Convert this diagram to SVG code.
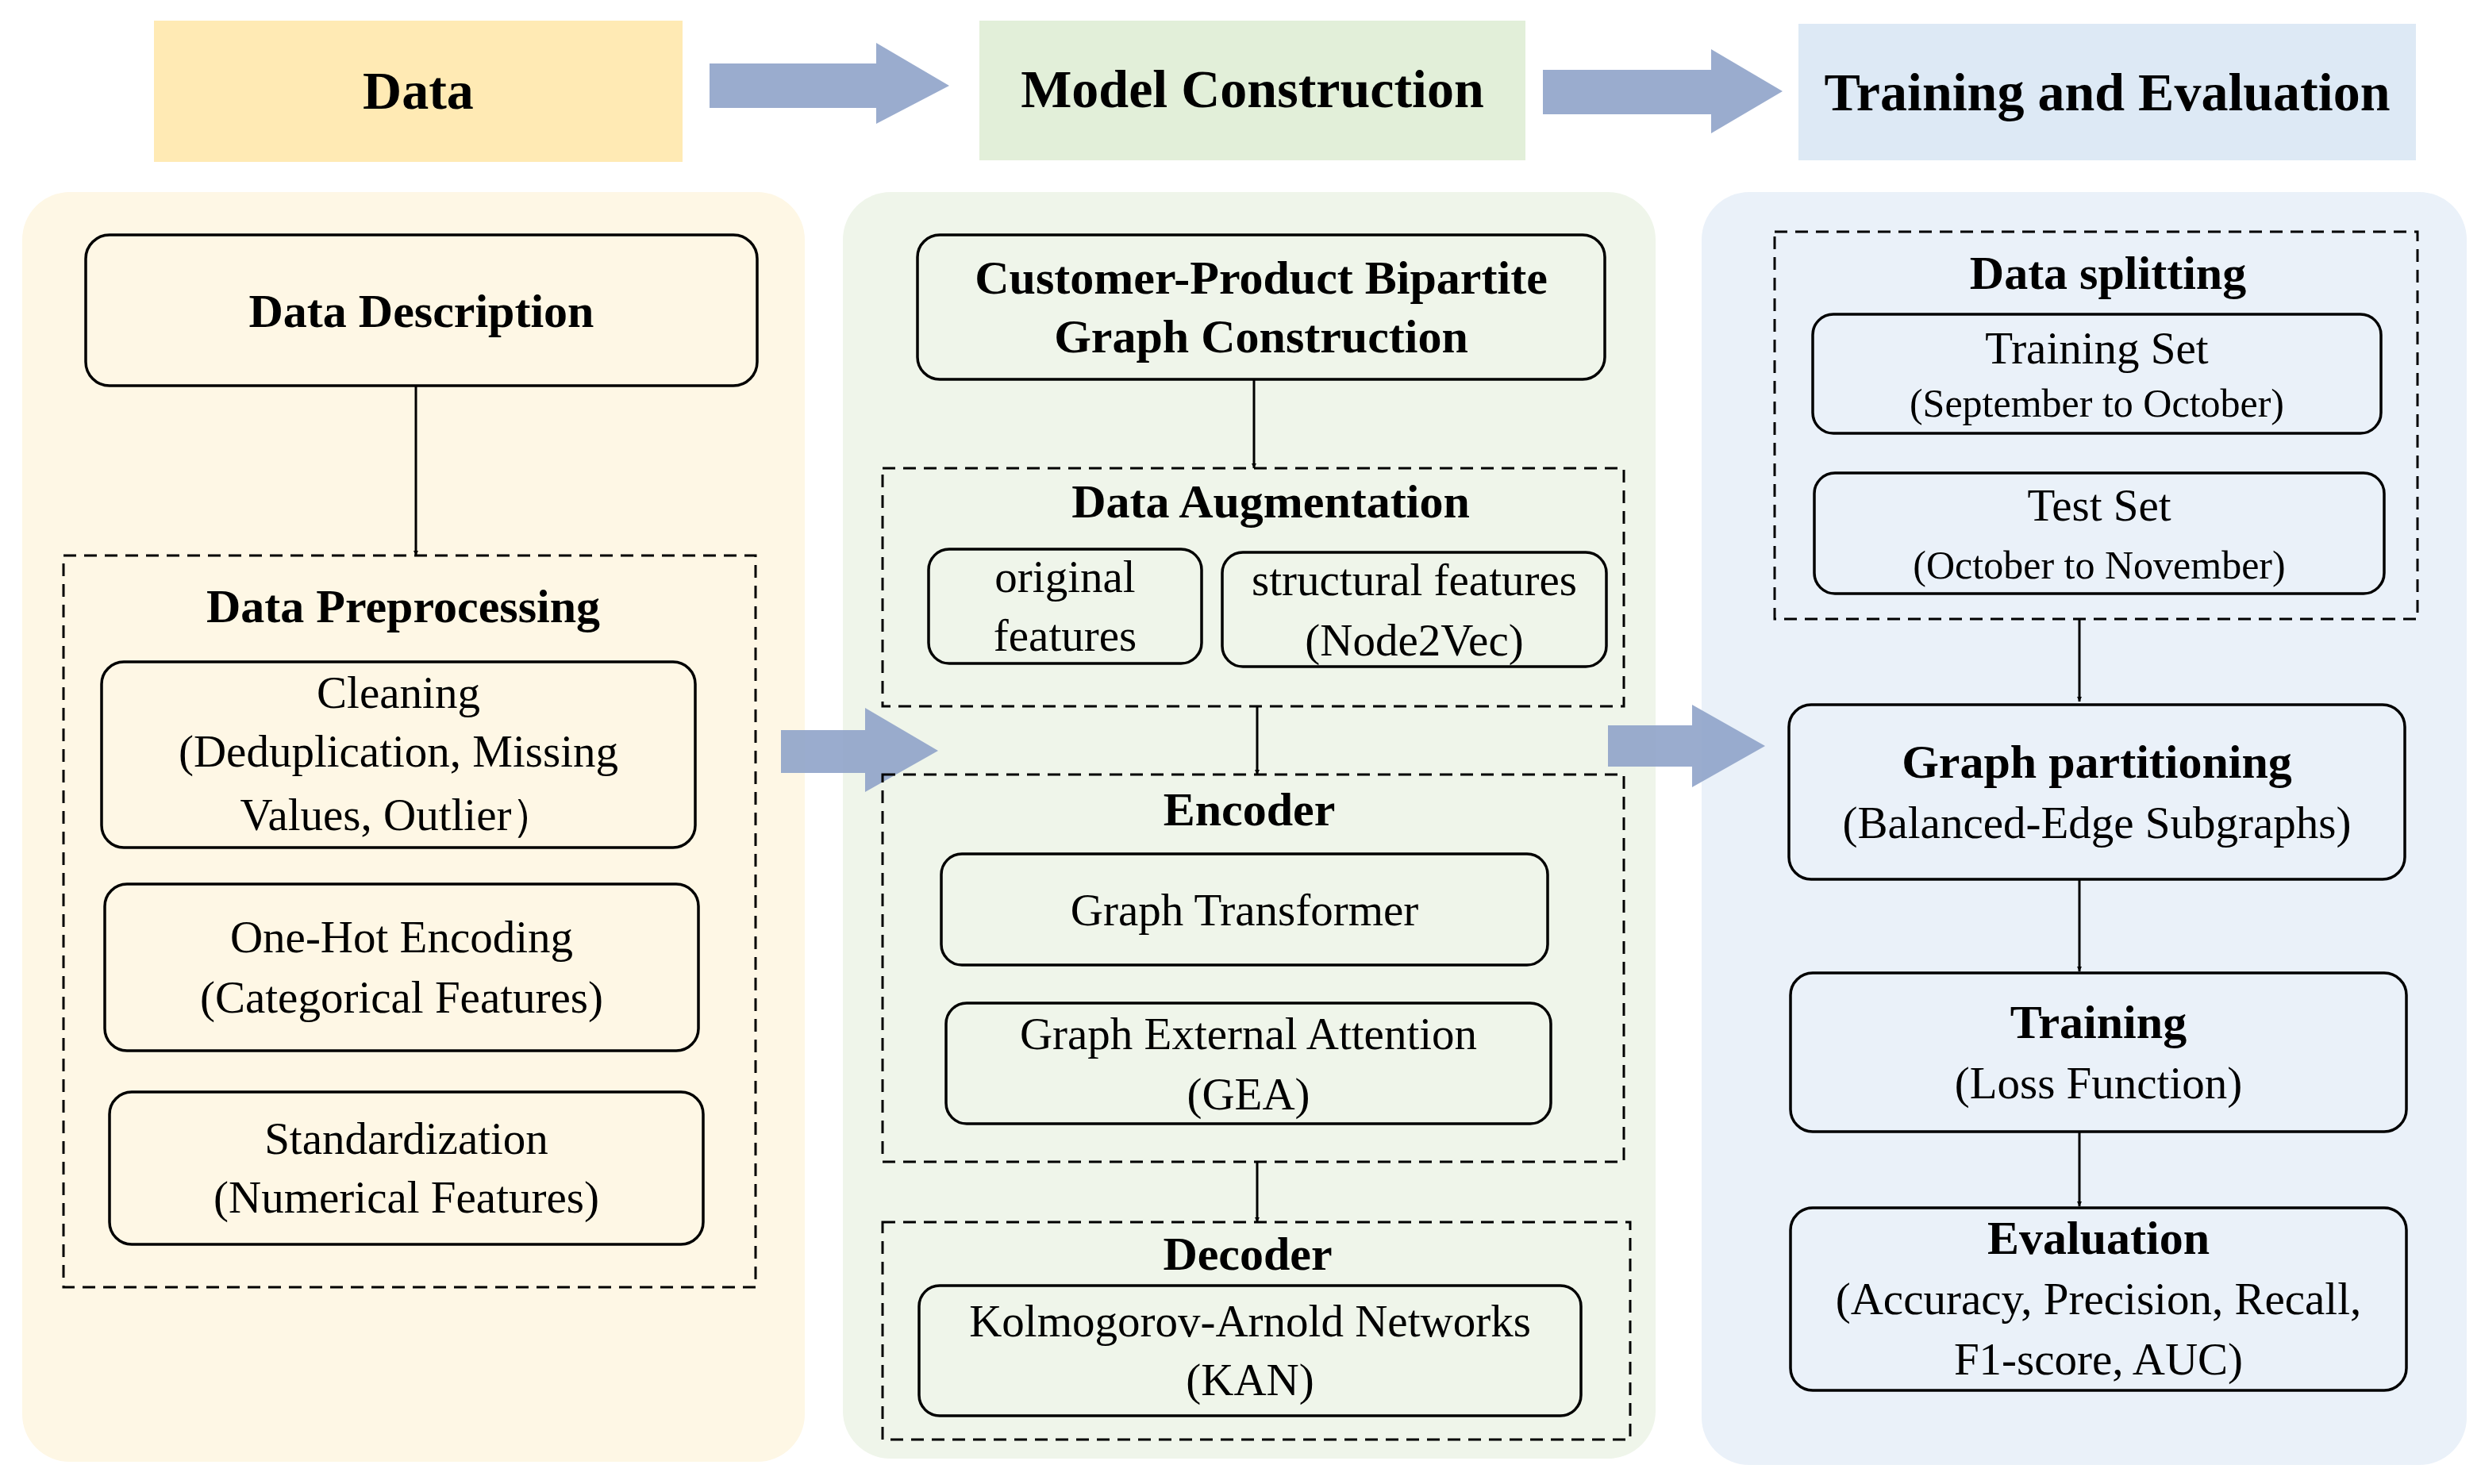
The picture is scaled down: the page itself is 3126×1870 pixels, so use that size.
<svg xmlns="http://www.w3.org/2000/svg" width="3126" height="1870" viewBox="0 0 3126 1870">
<defs>
<style>
text{font-family:"Liberation Serif","Times New Roman",serif;fill:#000;text-anchor:middle;dominant-baseline:central}
.h{font-weight:bold;font-size:60px}
.t{font-weight:bold;font-size:68px}
.r{font-size:57px}
.s{font-size:50px}
.box{stroke:#000;stroke-width:3.5;fill:none}
.dash{stroke:#000;stroke-width:3;fill:none;stroke-dasharray:16 10}
.ln{stroke:#000;stroke-width:3;fill:none;marker-end:url(#ah)}
.big{fill:#8fa3c9;opacity:0.9}
</style>
<marker id="ah" viewBox="0 0 10 10" refX="10" refY="5" markerWidth="6" markerHeight="6" orient="auto" markerUnits="userSpaceOnUse"><path d="M0,0 L10,5 L0,10 z" fill="#000"/></marker>
</defs>
<rect width="3126" height="1870" fill="#fff"/>
<g id="panels">
<rect x="28" y="242" width="986" height="1600" rx="60" fill="#fef7e5"/>
<rect x="1062" y="242" width="1024" height="1596" rx="60" fill="#eff5ea"/>
<rect x="2144" y="242" width="964" height="1604" rx="60" fill="#eaf1f9"/>
</g>
<g id="head-data"><rect x="194" y="26" width="666" height="178" fill="#ffeab4"/><text class="t" x="527" y="114">Data</text></g>
<g id="head-model"><rect x="1234" y="26" width="688" height="176" fill="#e2efd9"/><text class="t" x="1578" y="112">Model Construction</text></g>
<g id="head-train"><rect x="2266" y="30" width="778" height="172" fill="#dde9f5"/><text class="t" x="2655" y="116">Training and Evaluation</text></g>
<g id="connectors">
<path class="big" d="M894,80 H1104 V54 L1196,108 L1104,156 V136 H894 z"/>
<path class="big" d="M1944,88 H2156 V62 L2246,115 L2156,168 V144 H1944 z"/>
<path class="big" d="M984,920 H1090 V892 L1182,946 L1090,998 V974 H984 z"/>
<path class="big" d="M2026,914 H2132 V888 L2224,940 L2132,992 V966 H2026 z"/>
<line class="ln" x1="524" y1="486" x2="524" y2="700"/>
<line class="ln" x1="1580" y1="478" x2="1580" y2="590"/>
<line class="ln" x1="1584" y1="890" x2="1584" y2="976"/>
<line class="ln" x1="1584" y1="1464" x2="1584" y2="1540"/>
<line class="ln" x1="2620" y1="780" x2="2620" y2="884"/>
<line class="ln" x1="2620" y1="1108" x2="2620" y2="1224"/>
<line class="ln" x1="2620" y1="1426" x2="2620" y2="1520"/>
</g>
<g id="data-description"><rect class="box" x="108" y="296" width="846" height="190" rx="30"/><text class="h" x="531" y="392">Data Description</text></g>
<g id="data-preprocessing"><rect class="dash" x="80" y="700" width="872" height="922"/><text class="h" x="508" y="764">Data Preprocessing</text></g>
<g id="cleaning"><rect class="box" x="128" y="834" width="748" height="234" rx="28"/><text class="r" x="502" y="872">Cleaning</text><text class="r" x="502" y="946">(Deduplication, Missing</text><text class="r" x="502" y="1026">Values, Outlier）</text></g>
<g id="onehot"><rect class="box" x="132" y="1114" width="748" height="210" rx="28"/><text class="r" x="506" y="1180">One-Hot Encoding</text><text class="r" x="506" y="1256">(Categorical Features)</text></g>
<g id="standardization"><rect class="box" x="138" y="1376" width="748" height="192" rx="28"/><text class="r" x="512" y="1434">Standardization</text><text class="r" x="512" y="1508">(Numerical Features)</text></g>
<g id="bipartite"><rect class="box" x="1156" y="296" width="866" height="182" rx="28"/><text class="h" x="1589" y="350">Customer-Product Bipartite</text><text class="h" x="1589" y="424">Graph Construction</text></g>
<g id="augmentation"><rect class="dash" x="1112" y="590" width="934" height="300"/><text class="h" x="1601" y="632">Data Augmentation</text></g>
<g id="original"><rect class="box" x="1170" y="692" width="344" height="144" rx="26"/><text class="r" x="1342" y="726">original</text><text class="r" x="1342" y="800">features</text></g>
<g id="structural"><rect class="box" x="1540" y="696" width="484" height="144" rx="26"/><text class="r" x="1782" y="730">structural features</text><text class="r" x="1782" y="806">(Node2Vec)</text></g>
<g id="encoder"><rect class="dash" x="1112" y="976" width="934" height="488"/><text class="h" x="1574" y="1020">Encoder</text></g>
<g id="graph-transformer"><rect class="box" x="1186" y="1076" width="764" height="140" rx="26"/><text class="r" x="1568" y="1146">Graph Transformer</text></g>
<g id="gea"><rect class="box" x="1192" y="1264" width="762" height="152" rx="26"/><text class="r" x="1573" y="1302">Graph External Attention</text><text class="r" x="1573" y="1378">(GEA)</text></g>
<g id="decoder"><rect class="dash" x="1112" y="1540" width="942" height="274"/><text class="h" x="1572" y="1580">Decoder</text></g>
<g id="kan"><rect class="box" x="1158" y="1620" width="834" height="164" rx="26"/><text class="r" x="1575" y="1664">Kolmogorov-Arnold Networks</text><text class="r" x="1575" y="1738">(KAN)</text></g>
<g id="data-splitting"><rect class="dash" x="2236" y="292" width="810" height="488"/><text class="h" x="2656" y="344">Data splitting</text></g>
<g id="training-set"><rect class="box" x="2284" y="396" width="716" height="150" rx="26"/><text class="r" x="2642" y="438">Training  Set</text><text class="s" x="2642" y="508">(September to October)</text></g>
<g id="test-set"><rect class="box" x="2286" y="596" width="718" height="152" rx="26"/><text class="r" x="2645" y="636">Test  Set</text><text class="s" x="2645" y="712">(October to November)</text></g>
<g id="graph-partitioning"><rect class="box" x="2254" y="888" width="776" height="220" rx="28"/><text class="h" x="2642" y="960">Graph partitioning</text><text class="r" x="2642" y="1036">(Balanced-Edge Subgraphs)</text></g>
<g id="training"><rect class="box" x="2256" y="1226" width="776" height="200" rx="28"/><text class="h" x="2644" y="1288">Training</text><text class="r" x="2644" y="1364">(Loss Function)</text></g>
<g id="evaluation"><rect class="box" x="2256" y="1522" width="776" height="230" rx="28"/><text class="h" x="2644" y="1560">Evaluation</text><text class="r" x="2644" y="1636">(Accuracy, Precision, Recall,</text><text class="r" x="2644" y="1712">F1-score, AUC)</text></g>
</svg>
